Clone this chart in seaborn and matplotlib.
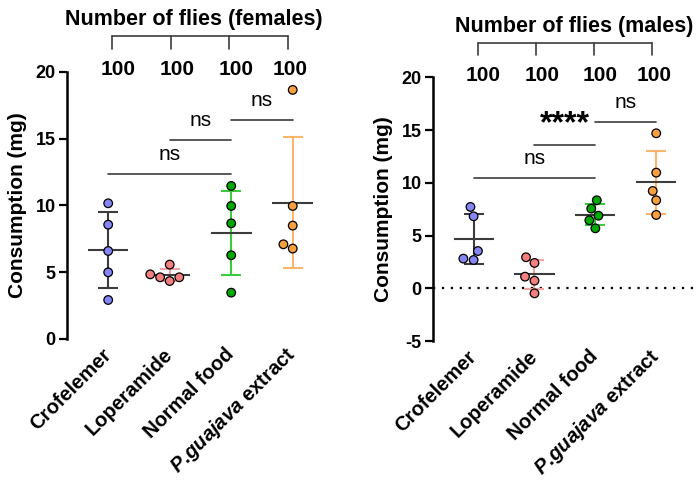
import numpy as np
import pandas as pd
import matplotlib
matplotlib.use("Agg")
import matplotlib.pyplot as plt
import seaborn as sns

# === data ===
groups = ["Crofelemer", "Loperamide", "Normal food", "P.guajava extract"]
group_labels = ["Crofelemer", "Loperamide", "Normal food", r"$\mathit{P.\!guajava}$ extract"]
n_flies = [100, 100, 100, 100]

fem_crofelemer = [10.16, 8.56, 6.59, 4.99, 2.92]
fem_loperamide = [5.57, 4.84, 4.62, 4.62, 4.34]
fem_normal = [11.46, 9.96, 8.66, 6.27, 3.47]
fem_guajava = [18.65, 9.96, 8.49, 7.09, 6.77]

mal_crofelemer = [7.71, 6.82, 3.53, 2.81, 2.68]
mal_loperamide = [2.94, 2.40, 1.10, 0.72, -0.48]
mal_normal = [8.34, 7.55, 6.88, 6.44, 5.68]
mal_guajava = [14.69, 10.96, 9.22, 8.34, 6.95]

# (group a, group b, bar height, label)
fem_tests = [(0, 2, 12.36, "ns"), (1, 2, 14.9, "ns"), (2, 3, 16.4, "ns")]
mal_tests = [(0, 2, 10.43, "ns"), (1, 2, 13.58, "****"), (2, 3, 15.73, "ns")]

point_colors = ["#8585F5", "#F57F7F", "#00A800", "#F7A03F"]
bar_colors = ["#3C3C3C", "#F4A3A3", "#3CCB3C", "#FCB56A"]

# === style ===
sns.set_style("ticks")
plt.rcParams["font.family"] = ["Liberation Sans", "DejaVu Sans"]
plt.rcParams["mathtext.fontset"] = "custom"
plt.rcParams["mathtext.it"] = "Liberation Sans:bold:italic"
plt.rcParams["mathtext.rm"] = "Liberation Sans:bold"
plt.rcParams["axes.unicode_minus"] = False
plt.rcParams["text.color"] = "black"
plt.rcParams["axes.labelcolor"] = "black"
plt.rcParams["xtick.color"] = "black"
plt.rcParams["ytick.color"] = "black"
plt.rcParams["axes.edgecolor"] = "black"


def make_df(values_per_group):
    rows = []
    for g, vals in zip(groups, values_per_group):
        for v in vals:
            rows.append({"group": g, "value": v})
    return pd.DataFrame(rows)


def draw_panel(ax, df, tests, ylim, yticks, title, title_x, bracket_y, tick_bottom, n_y):
    # mean +/- SD
    for i, g in enumerate(groups):
        vals = df.loc[df["group"] == g, "value"].to_numpy()
        m, sd = vals.mean(), vals.std(ddof=1)
        ax.errorbar(i, m, yerr=sd, color=bar_colors[i], capsize=7, capthick=1.5,
                    elinewidth=1.5, zorder=1)
        ax.hlines(m, i - 0.33, i + 0.33, color="#3C3C3C", lw=1.5, zorder=1)

    sns.swarmplot(data=df, x="group", y="value", hue="group", palette=point_colors,
                  order=groups, size=6.2, edgecolor="black", linewidth=0.9,
                  legend=False, ax=ax, zorder=3)

    # significance bars
    for a, b, h, lab in tests:
        ax.plot([a, b], [h, h], color="#3C3C3C", lw=1.2, clip_on=False)
        if "*" in lab:
            ax.annotate(lab, xy=((a + b) / 2, h), xytext=(0, 4), textcoords="offset points",
                        ha="center", va="bottom", fontsize=23, fontweight="bold",
                        annotation_clip=False)
        else:
            ax.annotate(lab, xy=((a + b) / 2, h), xytext=(0, 14), textcoords="offset points",
                        ha="center", va="center", fontsize=15, annotation_clip=False)

    # "Number of flies" header
    tick_x = [0.065, 1.02, 1.97, 2.925]
    ax.plot([tick_x[0], tick_x[-1]], [bracket_y, bracket_y], color="#3C3C3C", lw=1.2,
            clip_on=False)
    for x in tick_x:
        ax.plot([x, x], [bracket_y, tick_bottom], color="#3C3C3C", lw=1.2, clip_on=False)
    for x, n in zip([0.16, 1.12, 2.08, 2.965], n_flies):
        ax.text(x, n_y, str(n), ha="center", va="center", fontsize=15, fontweight="bold")
    ax.annotate(title, xy=(title_x, bracket_y), xytext=(0, 4), textcoords="offset points",
                ha="center", va="bottom", fontsize=15.5, fontweight="bold",
                annotation_clip=False)

    ax.set_xlim(-0.67, 3.67)
    ax.set_ylim(*ylim)
    ax.set_yticks(yticks)
    ax.set_xlabel("")
    ax.set_ylabel("Consumption (mg)", fontsize=15, fontweight="bold", labelpad=6)
    ax.set_xticks(range(len(groups)))
    ax.set_xticklabels(group_labels, rotation=45, ha="right", va="center",
                       rotation_mode="anchor", fontsize=14.5, fontweight="bold")
    ax.tick_params(axis="x", length=0, pad=9)
    ax.tick_params(axis="y", length=6, width=1.6, labelsize=13, pad=2)
    for lab in ax.get_yticklabels():
        lab.set_fontweight("bold")
    sns.despine(ax=ax, bottom=True)
    ax.spines["left"].set_linewidth(1.8)


fig = plt.figure(figsize=(6.97, 5.04), dpi=100)
ax1 = fig.add_axes([0.0961, 0.3274, 0.383, 0.530])
ax2 = fig.add_axes([0.621, 0.3234, 0.379, 0.5233])

df_f = make_df([fem_crofelemer, fem_loperamide, fem_normal, fem_guajava])
df_m = make_df([mal_crofelemer, mal_loperamide, mal_normal, mal_guajava])

draw_panel(ax1, df_f, fem_tests, (0, 20), [0, 5, 10, 15, 20],
           "Number of flies (females)", 1.39, 22.7, 21.7, 20.2)
draw_panel(ax2, df_m, mal_tests, (-5, 20), [-5, 0, 5, 10, 15, 20],
           "Number of flies (males)", 1.65, 23.25, 22.1, 20.2)
ax2.axhline(0, color="black", lw=1.6, ls=(0, (1, 3)), zorder=0, xmax=1.0)

fig.savefig("out.png", dpi=100)
